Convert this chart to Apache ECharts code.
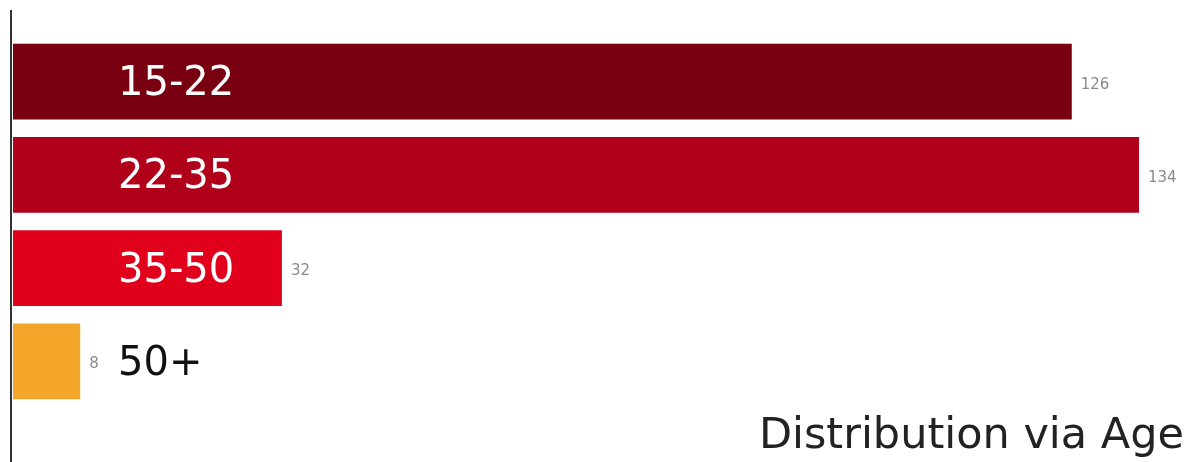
<!DOCTYPE html>
<html>
<head>
<meta charset="utf-8">
<style>
  html, body { margin: 0; padding: 0; background: #ffffff; }
  #chart { width: 1195px; height: 462px; }
</style>
<script src="https://cdn.jsdelivr.net/npm/echarts@6/dist/echarts.min.js"></script>
</head>
<body>
<div id="chart"></div>
<script>
// Age groups and respondent counts
const ageGroups = ['15-22', '22-35', '35-50', '50+'];
const counts = [126, 134, 32, 8];
const barColors = ['#780010', '#b0001a', '#e0001c', '#f4a62a'];
const nameColors = ['#ffffff', '#ffffff', '#ffffff', '#111111'];
const chartTitle = 'Distribution via Age';

const chart = echarts.init(document.getElementById('chart'), null, { renderer: 'canvas' });

const labelFont = 'DejaVu Sans, sans-serif';

chart.setOption({
  animation: false,
  backgroundColor: '#ffffff',
  title: {
    text: chartTitle,
    right: 6,
    top: 410,
    textStyle: { fontFamily: labelFont, fontWeight: 'normal', fontSize: 43, color: '#222222' }
  },
  grid: { left: 13, right: 56, top: 35, height: 373 },
  xAxis: {
    type: 'value', min: 0, max: 134, show: false
  },
  yAxis: {
    type: 'category',
    data: ageGroups,
    inverse: true,
    axisLine: { show: false },
    axisTick: { show: false },
    axisLabel: { show: false }
  },
  graphic: [{
    type: 'line',
    shape: { x1: 11, y1: 10, x2: 11, y2: 462 },
    style: { stroke: '#333333', lineWidth: 2 },
    z: 10
  }],
  series: [
    {
      type: 'bar',
      barCategoryGap: '18.5%',
      data: counts.map((v, i) => ({ value: v, itemStyle: { color: barColors[i] } })),
      label: {
        show: true,
        position: 'right',
        distance: 9,
        offset: [0, 3],
        fontFamily: labelFont,
        fontSize: 15,
        color: '#8a8a8a'
      }
    },
    {
      type: 'bar',
      barGap: '-100%',
      barCategoryGap: '18.5%',
      silent: true,
      data: counts.map((v, i) => ({
        value: v,
        itemStyle: { color: 'rgba(0,0,0,0)' },
        label: { color: nameColors[i] }
      })),
      label: {
        show: true,
        position: [105, '50%'],
        offset: [0, 3],
        verticalAlign: 'middle',
        align: 'left',
        fontFamily: labelFont,
        fontSize: 40,
        formatter: p => ageGroups[p.dataIndex]
      },
      z: 3
    }
  ]
});
</script>
</body>
</html>
